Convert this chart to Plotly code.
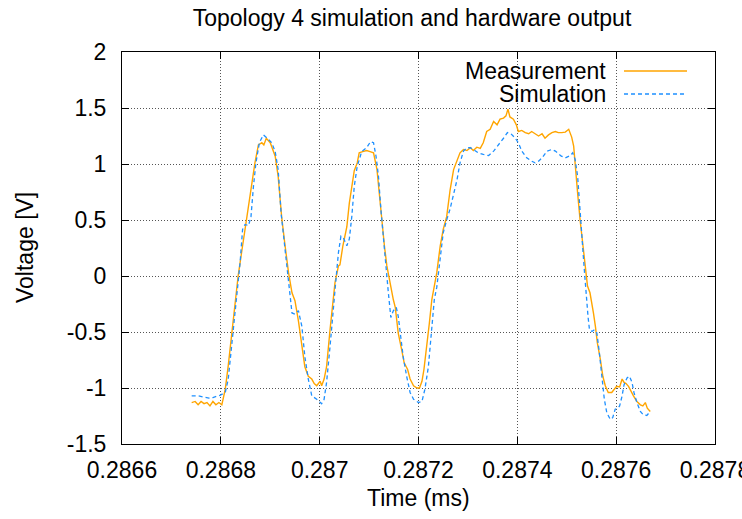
import plotly.graph_objects as go

# ---------------- data ----------------
meas_t = [0.286741, 0.286748, 0.286754, 0.286760, 0.286766, 0.286772, 0.286778, 0.286784, 0.286790, 0.286796,
          0.286802, 0.286809, 0.286815, 0.286822, 0.286829, 0.286835, 0.286842, 0.286849, 0.286856, 0.286863,
          0.286869, 0.286876, 0.286883, 0.286887, 0.286892, 0.286900, 0.286910, 0.286916, 0.286923, 0.286930,
          0.286937, 0.286944, 0.286950, 0.286957, 0.286964, 0.286970, 0.286977, 0.286984, 0.286989, 0.286994,
          0.287001, 0.287004, 0.287009, 0.287014, 0.287021, 0.287027, 0.287031, 0.287038, 0.287041, 0.287047,
          0.287055, 0.287060, 0.287065, 0.287070, 0.287076, 0.287080, 0.287087, 0.287095, 0.287102, 0.287109,
          0.287116, 0.287121, 0.287126, 0.287131, 0.287136, 0.287141, 0.287146, 0.287149, 0.287153, 0.287159,
          0.287166, 0.287171, 0.287178, 0.287183, 0.287190, 0.287197, 0.287202, 0.287207, 0.287211, 0.287217,
          0.287222, 0.287227, 0.287237, 0.287244, 0.287250, 0.287257, 0.287264, 0.287271, 0.287278, 0.287284,
          0.287291, 0.287298, 0.287305, 0.287311, 0.287318, 0.287325, 0.287331, 0.287338, 0.287345, 0.287352,
          0.287359, 0.287365, 0.287372, 0.287377, 0.287381, 0.287385, 0.287392, 0.287398, 0.287402, 0.287409,
          0.287416, 0.287423, 0.287429, 0.287436, 0.287443, 0.287450, 0.287456, 0.287463, 0.287470, 0.287477,
          0.287483, 0.287490, 0.287497, 0.287504, 0.287507, 0.287510, 0.287514, 0.287517, 0.287522, 0.287527,
          0.287533, 0.287537, 0.287542, 0.287547, 0.287551, 0.287554, 0.287558, 0.287562, 0.287568, 0.287573,
          0.287578, 0.287584, 0.287591, 0.287596, 0.287601, 0.287607, 0.287612, 0.287616, 0.287620, 0.287625,
          0.287630, 0.287635, 0.287642, 0.287649, 0.287654, 0.287659, 0.287663, 0.287669]
meas_v = [-1.13, -1.12, -1.15, -1.12, -1.14, -1.13, -1.16, -1.12, -1.15, -1.13,
          -1.15, -1.01, -0.80, -0.50, -0.25, 0.00, 0.21, 0.42, 0.62, 0.85,
          1.01, 1.17, 1.19, 1.17, 1.23, 1.19, 1.07, 0.89, 0.53, 0.27,
          0.03, -0.15, -0.22, -0.40, -0.63, -0.81, -0.895, -0.92, -0.96, -0.98,
          -0.94, -0.98, -0.92, -0.81, -0.48, -0.21, -0.06, 0.09, 0.10, 0.27,
          0.44, 0.65, 0.80, 0.94, 1.01, 1.10, 1.11, 1.12, 1.11, 1.10,
          0.95, 0.71, 0.50, 0.27, 0.09, -0.03, -0.15, -0.21, -0.28, -0.51,
          -0.66, -0.775, -0.835, -0.92, -0.98, -1.00, -1.00, -0.94, -0.835, -0.63,
          -0.42, -0.21, 0.03, 0.27, 0.415, 0.53, 0.77, 0.95, 1.04, 1.10,
          1.13, 1.12, 1.145, 1.12, 1.15, 1.14, 1.19, 1.29, 1.31, 1.38,
          1.35, 1.40, 1.41, 1.43, 1.49, 1.42, 1.40, 1.35, 1.29, 1.30,
          1.28, 1.27, 1.29, 1.27, 1.25, 1.27, 1.23, 1.26, 1.28, 1.29,
          1.28, 1.28, 1.285, 1.31, 1.28, 1.24, 1.16, 0.98, 0.74, 0.50,
          0.27, 0.06, -0.09, -0.15, -0.24, -0.33, -0.45, -0.60, -0.745, -0.895,
          -0.98, -1.04, -1.04, -1.01, -0.985, -0.99, -0.92, -0.95, -0.96, -0.985,
          -1.03, -1.07, -1.12, -1.15, -1.16, -1.13, -1.18, -1.21]

sim_t = [0.286741, 0.286754, 0.286776, 0.286784, 0.286798, 0.286809, 0.286815, 0.286822, 0.286829, 0.286835,
         0.286839, 0.286844, 0.286849, 0.286856, 0.286861, 0.286866, 0.286871, 0.286878, 0.286886, 0.286894,
         0.286903, 0.286910, 0.286916, 0.286922, 0.286928, 0.286933, 0.286939, 0.286944, 0.286950, 0.286957,
         0.286964, 0.286970, 0.286977, 0.286984, 0.286994, 0.287004, 0.287009, 0.287014, 0.287021, 0.287028,
         0.287033, 0.287038, 0.287043, 0.287048, 0.287055, 0.287060, 0.287065, 0.287070, 0.287076, 0.287085,
         0.287095, 0.287103, 0.287109, 0.287114, 0.287119, 0.287124, 0.287129, 0.287134, 0.287139, 0.287144,
         0.287149, 0.287155, 0.287159, 0.287164, 0.287169, 0.287176, 0.287183, 0.287190, 0.287200, 0.287207,
         0.287213, 0.287220, 0.287227, 0.287232, 0.287237, 0.287244, 0.287250, 0.287257, 0.287264, 0.287271,
         0.287278, 0.287284, 0.287291, 0.287298, 0.287305, 0.287311, 0.287321, 0.287331, 0.287342, 0.287352,
         0.287362, 0.287372, 0.287380, 0.287387, 0.287396, 0.287402, 0.287409, 0.287419, 0.287429, 0.287436,
         0.287443, 0.287450, 0.287460, 0.287470, 0.287477, 0.287489, 0.287497, 0.287507, 0.287512, 0.287517,
         0.287522, 0.287526, 0.287529, 0.287533, 0.287536, 0.287539, 0.287543, 0.287546, 0.287551, 0.287556,
         0.287561, 0.287566, 0.287571, 0.287576, 0.287581, 0.287588, 0.287593, 0.287598, 0.287603, 0.287607,
         0.287612, 0.287616, 0.287622, 0.287627, 0.287632, 0.287636, 0.287642, 0.287649, 0.287655, 0.287662,
         0.287667]
sim_v = [-1.07, -1.07, -1.09, -1.085, -1.065, -1.04, -0.92, -0.63, -0.30, -0.03,
         0.12, 0.415, 0.46, 0.45, 0.53, 0.80, 1.01, 1.19, 1.26, 1.23,
         1.19, 1.11, 0.95, 0.56, 0.30, 0.09, -0.15, -0.33, -0.34, -0.31,
         -0.45, -0.72, -0.92, -1.07, -1.10, -1.14, -1.10, -0.95, -0.63, -0.24,
         -0.03, 0.21, 0.355, 0.34, 0.27, 0.33, 0.53, 0.80, 0.98, 1.11,
         1.145, 1.20, 1.19, 1.07, 0.89, 0.59, 0.33, 0.09, -0.15, -0.37,
         -0.31, -0.28, -0.36, -0.54, -0.72, -0.895, -1.04, -1.10, -1.13, -1.12,
         -1.01, -0.81, -0.48, -0.21, -0.10, 0.15, 0.385, 0.50, 0.60, 0.73,
         0.86, 1.01, 1.115, 1.145, 1.145, 1.13, 1.10, 1.085, 1.075, 1.115,
         1.17, 1.23, 1.28, 1.27, 1.23, 1.19, 1.115, 1.055, 1.025, 1.01,
         1.025, 1.055, 1.115, 1.13, 1.115, 1.07, 1.055, 1.075, 1.10, 1.04,
         0.89, 0.62, 0.385, 0.21, 0.03, -0.18, -0.36, -0.48, -0.495, -0.48,
         -0.51, -0.685, -0.895, -1.10, -1.22, -1.28, -1.265, -1.19, -1.18, -1.16,
         -1.07, -0.97, -0.91, -0.895, -0.95, -1.04, -1.13, -1.21, -1.24, -1.245,
         -1.22]

x_ticks = [0.2866, 0.2868, 0.2870, 0.2872, 0.2874, 0.2876, 0.2878]
x_tick_text = ["0.2866", "0.2868", "0.287", "0.2872", "0.2874", "0.2876", "0.2878"]
y_ticks = [-1.5, -1.0, -0.5, 0.0, 0.5, 1.0, 1.5, 2.0]
y_tick_text = ["-1.5", "-1", "-0.5", "0", "0.5", "1", "1.5", "2"]
series_names = ["Measurement", "Simulation"]

# ---------------- styling ----------------
FONT = "Liberation Sans, Arial, Helvetica, sans-serif"
FS = 23
ORANGE = "#FFA500"
BLUE = "#1E90FF"

fig = go.Figure()
fig.add_trace(go.Scatter(x=meas_t, y=meas_v, mode="lines", name=series_names[0],
                         line=dict(color=ORANGE, width=1.4)))
fig.add_trace(go.Scatter(x=sim_t, y=sim_v, mode="lines", name=series_names[1],
                         line=dict(color=BLUE, width=1.3, dash="4px,3px")))

W, H = 742, 519
L, R, T, B = 122, 27, 52, 75
pw, ph = W - L - R, H - T - B

axis_common = dict(
    showline=True, linecolor="black", linewidth=1, mirror="ticks",
    ticks="inside", ticklen=7, tickcolor="black", tickwidth=1,
    showgrid=True, gridcolor="#555555", gridwidth=1, griddash="1px,2px",
    zeroline=False, tickfont=dict(family=FONT, size=FS, color="black"),
    ticklabeloverflow="allow",
)

fig.update_xaxes(range=[x_ticks[0], x_ticks[-1]], tickmode="array", tickvals=x_ticks,
                 ticktext=x_tick_text, ticklabelstandoff=5, **axis_common)
fig.update_yaxes(range=[y_ticks[0], y_ticks[-1]], tickmode="array", tickvals=y_ticks,
                 ticktext=y_tick_text, ticklabelstandoff=10, **axis_common)

def px_x(p):
    return (p - L) / pw

def px_y(p):
    return (H - B - p) / ph

annotations = [
    dict(text="Time (ms)", xref="paper", yref="paper", x=0.5, y=0, yshift=-(498 - (H - B)),
         xanchor="center", yanchor="middle", showarrow=False,
         font=dict(family=FONT, size=FS, color="black")),
    dict(text="Voltage [V]", xref="paper", yref="paper", x=0, y=0.5, xshift=-(L - 25),
         xanchor="center", yanchor="middle", textangle=-90, showarrow=False,
         font=dict(family=FONT, size=FS, color="black")),
    dict(text=series_names[0], xref="paper", yref="paper", x=px_x(608), y=px_y(71),
         xanchor="right", yanchor="middle", showarrow=False,
         font=dict(family=FONT, size=FS, color="black")),
    dict(text=series_names[1], xref="paper", yref="paper", x=px_x(608), y=px_y(94),
         xanchor="right", yanchor="middle", showarrow=False,
         font=dict(family=FONT, size=FS, color="black")),
]

shapes = [
    # opaque key background
    dict(type="rect", xref="paper", yref="paper", x0=px_x(458), x1=1, y0=px_y(104), y1=1,
         fillcolor="white", line=dict(width=0), layer="between"),
    dict(type="line", xref="paper", yref="paper", x0=px_x(624), x1=px_x(687), y0=px_y(71), y1=px_y(71),
         line=dict(color=ORANGE, width=1.4)),
    dict(type="line", xref="paper", yref="paper", x0=px_x(624), x1=px_x(687), y0=px_y(94), y1=px_y(94),
         line=dict(color=BLUE, width=1.3, dash="4px,3px")),
]

fig.update_layout(
    width=W, height=H,
    margin=dict(l=L, r=R, t=T, b=B, pad=0, autoexpand=False),
    paper_bgcolor="white", plot_bgcolor="white",
    showlegend=False,
    title=dict(text="Topology 4 simulation and hardware output", x=412 / W, xref="container",
               xanchor="center", y=1 - 18 / H, yref="container", yanchor="middle",
               font=dict(family=FONT, size=FS, color="black")),
    annotations=annotations, shapes=shapes,
    font=dict(family=FONT, size=FS, color="black"),
)

fig.write_html("out.html")
